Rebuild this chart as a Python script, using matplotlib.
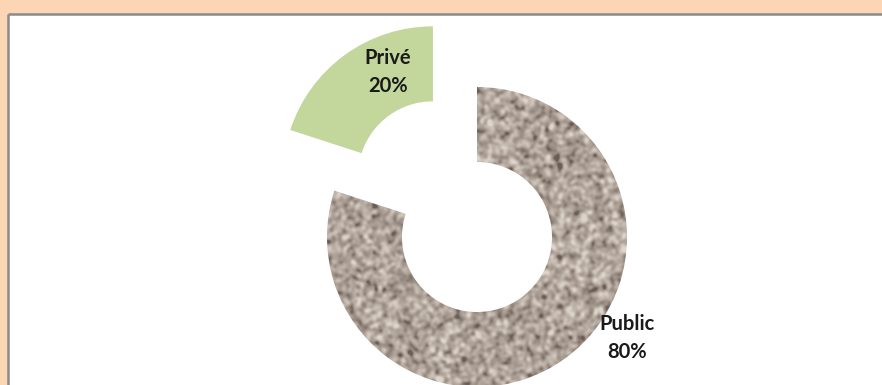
import numpy as np
import matplotlib
matplotlib.use("Agg")
import matplotlib.pyplot as plt
from matplotlib.patches import Rectangle
from matplotlib.colors import LinearSegmentedColormap

# Data
categories = ["Public", "Privé"]
shares = [80, 20]
pct_labels = ["80%", "20%"]

W, H = 882, 385
PEACH = "#FCD5B4"
GREEN = "#C3D69B"
BORDER = "#8A8A8A"

fig = plt.figure(figsize=(W / 100, H / 100), dpi=100, facecolor=PEACH)
ax = fig.add_axes([0, 0, 1, 1])

# White chart area with grey frame on the top/left
ax.add_patch(Rectangle((9, 0), W, H - 15, facecolor="white", edgecolor="none", zorder=0))
ax.plot([8, 8], [0, H - 14], color=BORDER, lw=1.8, zorder=1, solid_capstyle="butt")
ax.plot([8, W], [H - 14, H - 14], color=BORDER, lw=1.8, zorder=1, solid_capstyle="butt")

cx, cy = 477, H - 237
R = 150
ring = 0.5 * R
explode = [0, 0.5 * R]

wedges, _ = ax.pie(
    shares,
    startangle=90,
    counterclock=False,
    radius=R,
    center=(cx, cy),
    explode=explode,
    colors=["#A89C92", GREEN],
    wedgeprops=dict(width=ring, linewidth=0),
    frame=True,
)
ax.set_xlim(0, W)
ax.set_ylim(0, H)
ax.set_aspect("equal")
ax.axis("off")

# Granite-like fill for the Public ring
rng = np.random.default_rng(7)
noise = rng.normal(size=(H, W))
k = np.exp(-0.5 * (np.arange(-6, 7) / 1.8) ** 2)
k /= k.sum()
noise = np.apply_along_axis(lambda r: np.convolve(r, k, mode="same"), 1, noise)
noise = np.apply_along_axis(lambda c: np.convolve(c, k, mode="same"), 0, noise)
noise = (noise - noise.mean()) / noise.std()
granite = LinearSegmentedColormap.from_list(
    "granite", ["#6A5E56", "#958980", "#AFA399", "#C6BCB2", "#DDD4CB"]
)
img = ax.imshow(noise, cmap=granite, vmin=-2.6, vmax=2.6, extent=(0, W, 0, H),
                origin="lower", interpolation="bilinear", zorder=2)
img.set_clip_path(wedges[0])
wedges[0].set_facecolor("none")

# Labels
font = dict(family=["Lato", "DejaVu Sans"], fontsize=14.5, fontweight="bold",
            color="#1A1A1A", ha="center", va="center", linespacing=1.45, zorder=5)
ax.text(388, H - 72, f"{categories[1]}\n{pct_labels[1]}", **font)
ax.text(627, H - 338, f"{categories[0]}\n{pct_labels[0]}", **font)

fig.savefig("out.png", dpi=100, facecolor=PEACH)
